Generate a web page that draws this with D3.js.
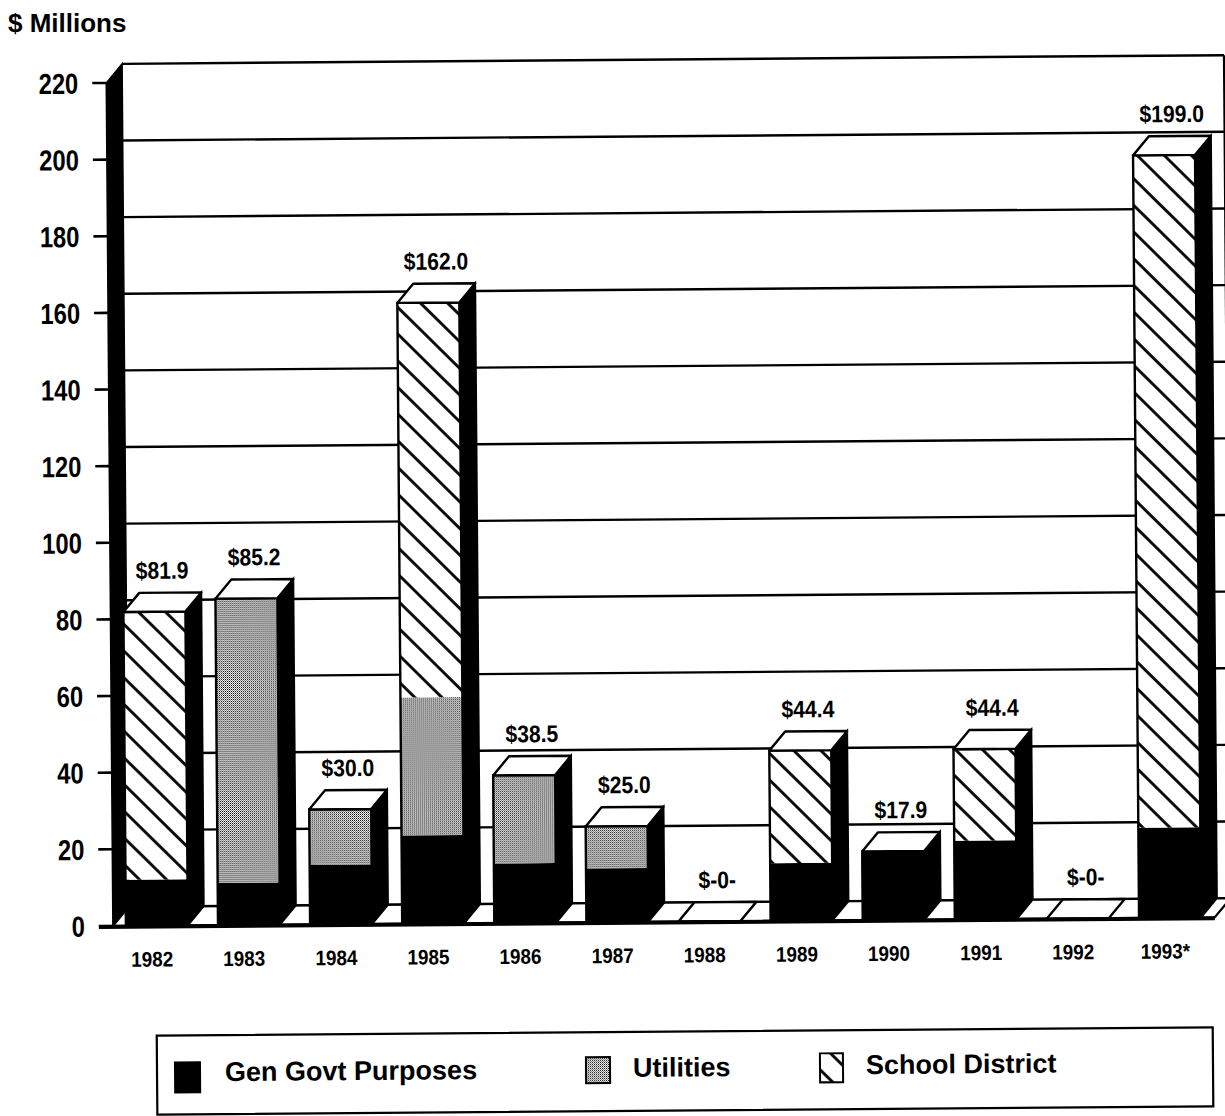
<!DOCTYPE html>
<html>
<head>
<meta charset="utf-8">
<script src="https://cdn.jsdelivr.net/npm/d3@7"></script>
<style>
  body { margin: 0; background: #fff; }
  svg { display: block; }
  text { font-family: "Liberation Sans", Arial, Helvetica, sans-serif; font-weight: bold; fill: #000; }
</style>
</head>
<body>
<svg id="chart" width="1225" height="1116"></svg>
<script>
// Bond issues by year, $ millions, split by purpose
const years = ["1982", "1983", "1984", "1985", "1986", "1987", "1988", "1989", "1990", "1991", "1992", "1993"];
const yearLabels = ["1982", "1983", "1984", "1985", "1986", "1987", "1988", "1989", "1990", "1991", "1992", "1993*"];
const genGovt =        [12.0, 11.0, 15.5, 23.0, 15.5, 14.0, 0, 15.0, 17.9, 20.5, 0, 23.5];
const utilities =      [0,    74.2, 14.5, 36.0, 23.0, 11.0, 0, 0,    0,    0,    0, 0];
const schoolDistrict = [69.9, 0,    0,    103.0, 0,   0,    0, 29.4, 0,    23.9, 0, 175.5];
const seriesKeys = ["gen", "util", "school"];
const seriesNames = ["Gen Govt Purposes", "Utilities", "School District"];
const yTicks = [0, 20, 40, 60, 80, 100, 120, 140, 160, 180, 200, 220];

const table = years.map((yr, i) => ({
  year: yr, label: yearLabels[i],
  gen: genGovt[i], util: utilities[i], school: schoolDistrict[i]
}));
table.forEach(d => { d.total = d.gen + d.util + d.school; });

const svg = d3.select("#chart");
const defs = svg.append("defs");

// fine dither for utilities
const stip = defs.append("pattern").attr("id", "stipple")
  .attr("patternUnits", "userSpaceOnUse").attr("width", 2).attr("height", 2);
stip.append("rect").attr("width", 2).attr("height", 2).attr("fill", "#fff");
stip.append("rect").attr("width", 1).attr("height", 1).attr("fill", "#000");
stip.append("rect").attr("x", 1).attr("y", 1).attr("width", 1).attr("height", 1).attr("fill", "#777");

// back-slash hatch for school district
const hatch = defs.append("pattern").attr("id", "hatch")
  .attr("patternUnits", "userSpaceOnUse").attr("width", 19).attr("height", 19)
  .attr("patternTransform", "rotate(-45)");
hatch.append("rect").attr("width", 19).attr("height", 19).attr("fill", "#fff");
hatch.append("line").attr("x1", 9.5).attr("x2", 9.5).attr("y1", 0).attr("y2", 19)
  .attr("stroke", "#000").attr("stroke-width", 2.8);

const fills = { gen: "#000", util: "url(#stipple)", school: "url(#hatch)" };

// axis title
svg.append("text").attr("x", 8).attr("y", 32).attr("font-size", 26).text("$ Millions");

const g = svg.append("g").attr("transform", "rotate(-0.45 612 558)");

const y = d3.scaleLinear().domain([0, 220]).range([922, 79]);
const x = d3.scaleBand().domain(years).range([109.2, 1212])
  .paddingInner(0.327).paddingOuter(0.15);
const DX = 16, DY = -19;
const wallX = 110, floorEnd = 1212;
const bw = x.bandwidth();
const line = d3.line();

// back wall grid
g.append("g").selectAll("line").data(yTicks).join("line")
  .attr("x1", wallX + DX).attr("x2", floorEnd + DX)
  .attr("y1", d => y(d) + DY).attr("y2", d => y(d) + DY)
  .attr("stroke", "#000").attr("stroke-width", 2.4);
g.append("line")
  .attr("x1", floorEnd + DX).attr("x2", floorEnd + DX)
  .attr("y1", y(220) + DY).attr("y2", y(0) + DY)
  .attr("stroke", "#000").attr("stroke-width", 2.4);

// left side wall
g.append("path")
  .attr("d", line([[wallX, y(0)], [wallX + DX, y(0) + DY], [wallX + DX, y(220) + DY], [wallX, y(220)]]) + "Z")
  .attr("fill", "#000").attr("stroke", "#000").attr("stroke-width", 1.5);

// y ticks and labels
const ticks = g.append("g");
ticks.selectAll("line").data(yTicks).join("line")
  .attr("x1", 96).attr("x2", wallX)
  .attr("y1", d => y(d)).attr("y2", d => y(d))
  .attr("stroke", "#000").attr("stroke-width", 2.6);
ticks.selectAll("g.lbl").data(yTicks).join("g").attr("class", "lbl")
  .attr("transform", d => `translate(82,${y(d) + 10.5}) scale(0.82,1)`)
  .append("text").attr("text-anchor", "end").attr("font-size", 29).text(d => d);

// floor
g.append("path")
  .attr("d", line([[wallX, y(0)], [floorEnd, y(0)], [floorEnd + DX, y(0) + DY], [wallX + DX, y(0) + DY]]) + "Z")
  .attr("fill", "#fff").attr("stroke", "#000").attr("stroke-width", 2.2);

// bars
const stacked = d3.stack().keys(seriesKeys)(table);
table.forEach((d, i) => {
  const bx = x(d.year);
  const top = y(d.total), base = y(0);
  const bar = g.append("g");
  if (d.total > 0) {
    bar.append("path")
      .attr("d", line([[bx + bw, top], [bx + bw + DX, top + DY], [bx + bw + DX, base + DY], [bx + bw, base]]) + "Z")
      .attr("fill", "#000").attr("stroke", "#000").attr("stroke-width", 2);
    stacked.forEach(s => {
      const seg = s[i];
      if (seg[1] - seg[0] <= 0) return;
      bar.append("rect")
        .attr("x", bx).attr("width", bw)
        .attr("y", y(seg[1])).attr("height", y(seg[0]) - y(seg[1]))
        .attr("fill", fills[s.key]);
    });
    bar.append("rect")
      .attr("x", bx).attr("width", bw).attr("y", top).attr("height", base - top)
      .attr("fill", "none").attr("stroke", "#000").attr("stroke-width", 2.4);
  }
  bar.append("path")
    .attr("d", line([[bx, top], [bx + DX, top + DY], [bx + bw + DX, top + DY], [bx + bw, top]]) + "Z")
    .attr("fill", "#fff").attr("stroke", "#000").attr("stroke-width", 2.4).attr("stroke-linejoin", "round");

  // value label
  g.append("g")
    .attr("transform", `translate(${bx + bw / 2 + DX / 2},${top + DY - 14}) scale(0.88,1)`)
    .append("text").attr("text-anchor", "middle").attr("font-size", 24)
    .text(d.total > 0 ? "$" + d.total.toFixed(1) : "$-0-");

  // year label
  g.append("g")
    .attr("transform", `translate(${bx + bw / 2 - 5},${y(0) + 41}) scale(0.9,1)`)
    .append("text").attr("text-anchor", "middle").attr("font-size", 21)
    .text(d.label);
});

// front edge of the floor
g.append("line").attr("x1", 96).attr("x2", floorEnd)
  .attr("y1", y(0) + 1).attr("y2", y(0) + 1)
  .attr("stroke", "#000").attr("stroke-width", 4);

// legend
const lg = g.append("g");
lg.append("rect").attr("x", 153).attr("y", 1032).attr("width", 1056).attr("height", 79)
  .attr("fill", "#fff").attr("stroke", "#000").attr("stroke-width", 2.2);
const swatches = [
  { x: 171, y: 1059, w: 25, h: 30, key: "gen" },
  { x: 582, y: 1057, w: 24, h: 26, key: "util" },
  { x: 816, y: 1055, w: 23, h: 29, key: "school" }
];
const textX = [221, 629, 862];
const textY = [1078, 1077, 1076];
swatches.forEach((s, i) => {
  lg.append("rect").attr("x", s.x).attr("y", s.y).attr("width", s.w).attr("height", s.h)
    .attr("fill", fills[s.key]).attr("stroke", "#000").attr("stroke-width", 2);
  lg.append("text").attr("x", textX[i]).attr("y", textY[i]).attr("font-size", 27).text(seriesNames[i]);
});
</script>
</body>
</html>
